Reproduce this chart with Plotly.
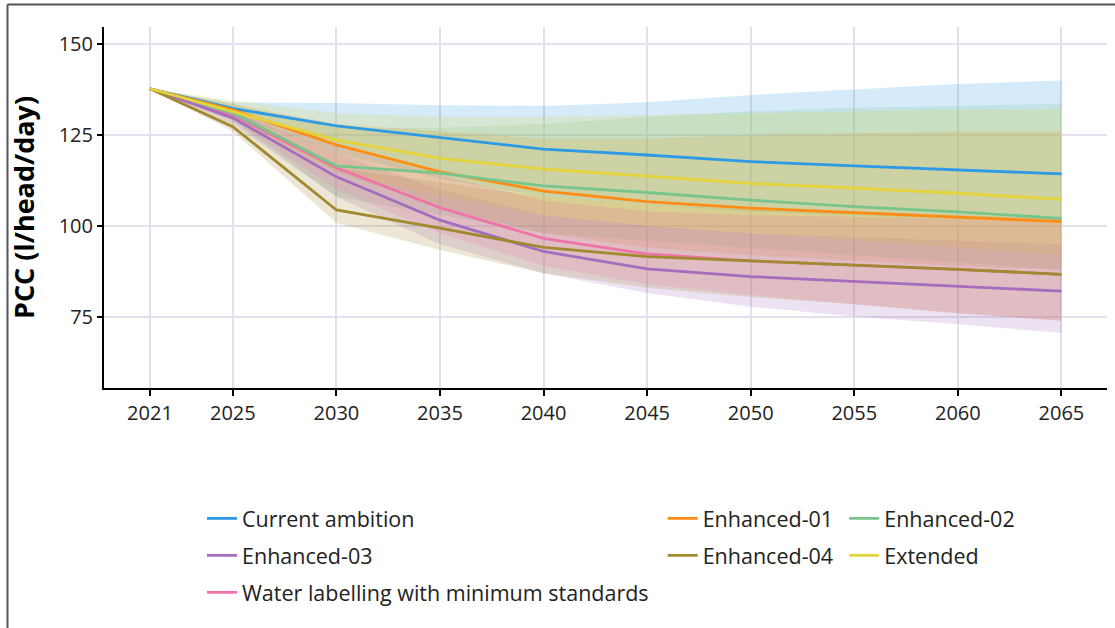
import plotly.graph_objects as go

# Per-capita consumption projections by scenario (l/head/day)
years = [2021, 2025, 2030, 2035, 2040, 2045, 2050, 2055, 2060, 2065]

scenarios = [
    "Current ambition",
    "Enhanced-01",
    "Enhanced-02",
    "Enhanced-03",
    "Enhanced-04",
    "Extended",
    "Water labelling with minimum standards",
]

current_ambition = [137.7, 132.3, 127.5, 124.2, 121.1, 119.5, 117.7, 116.5, 115.4, 114.3]
current_ambition_hi = [137.7, 134.0, 133.8, 133.2, 133.0, 134.0, 136.0, 137.5, 139.0, 140.0]
current_ambition_lo = [137.7, 130.5, 120.0, 113.0, 108.0, 106.0, 104.0, 103.0, 102.0, 101.0]

enhanced_01 = [137.7, 131.9, 122.3, 114.9, 109.6, 106.7, 104.9, 103.7, 102.6, 101.2]
enhanced_01_hi = [137.7, 133.5, 128.0, 126.0, 124.0, 124.0, 125.0, 125.5, 126.0, 126.0]
enhanced_01_lo = [137.7, 130.0, 115.0, 105.0, 98.0, 94.0, 92.0, 90.5, 89.0, 88.0]

enhanced_02 = [137.7, 131.0, 116.5, 114.5, 111.0, 109.2, 107.1, 105.3, 103.9, 102.1]
enhanced_02_hi = [137.7, 133.5, 127.0, 127.0, 128.0, 130.0, 131.5, 132.5, 133.0, 133.6]
enhanced_02_lo = [137.7, 129.0, 108.0, 103.0, 98.0, 96.0, 94.0, 92.0, 90.0, 88.0]

enhanced_03 = [137.7, 129.7, 113.5, 101.6, 93.0, 88.2, 86.1, 84.7, 83.3, 82.1]
enhanced_03_hi = [137.7, 131.5, 120.0, 110.0, 103.0, 100.0, 98.0, 97.0, 96.0, 95.0]
enhanced_03_lo = [137.7, 128.0, 108.0, 95.0, 87.0, 81.6, 77.8, 75.1, 73.0, 70.6]

enhanced_04 = [137.7, 127.3, 104.4, 99.4, 94.1, 91.6, 90.4, 89.3, 88.1, 86.7]
enhanced_04_hi = [137.7, 132.0, 116.0, 112.0, 108.0, 106.0, 104.5, 104.0, 103.0, 102.0]
enhanced_04_lo = [137.7, 126.0, 100.8, 93.4, 87.0, 83.0, 80.5, 78.5, 76.0, 74.0]

extended = [137.7, 131.5, 123.6, 118.6, 115.6, 113.7, 111.7, 110.4, 109.0, 107.3]
extended_hi = [137.7, 134.5, 131.0, 130.0, 130.0, 130.5, 131.0, 131.5, 132.0, 132.0]
extended_lo = [137.7, 129.0, 115.0, 108.0, 103.0, 100.0, 98.0, 96.0, 94.0, 92.0]

water_labelling = [137.7, 130.5, 116.0, 105.0, 96.6, 92.3, 90.4, 89.3, 88.1, 86.7]
water_labelling_hi = [137.7, 132.0, 122.0, 114.0, 107.0, 104.0, 103.0, 102.5, 102.0, 102.0]
water_labelling_lo = [137.7, 129.0, 110.0, 98.0, 89.0, 84.0, 81.0, 78.5, 76.0, 74.0]

x_ticks = [2021, 2025, 2030, 2035, 2040, 2045, 2050, 2055, 2060, 2065]
y_ticks = [75, 100, 125, 150]

series = {
    "Current ambition": (current_ambition, current_ambition_lo, current_ambition_hi, (46, 154, 230), "legend", 1),
    "Enhanced-01": (enhanced_01, enhanced_01_lo, enhanced_01_hi, (255, 140, 20), "legend2", 1),
    "Enhanced-02": (enhanced_02, enhanced_02_lo, enhanced_02_hi, (120, 197, 140), "legend3", 1),
    "Enhanced-03": (enhanced_03, enhanced_03_lo, enhanced_03_hi, (166, 109, 191), "legend", 2),
    "Enhanced-04": (enhanced_04, enhanced_04_lo, enhanced_04_hi, (160, 137, 46), "legend2", 2),
    "Extended": (extended, extended_lo, extended_hi, (226, 212, 58), "legend3", 2),
    "Water labelling with minimum standards": (water_labelling, water_labelling_lo, water_labelling_hi, (238, 116, 168), "legend", 3),
}

FONT = "Open Sans"


def rgba(c, a):
    return f"rgba({c[0]},{c[1]},{c[2]},{a})"


fig = go.Figure()

# uncertainty ribbons first
for name in scenarios:
    mid, lo, hi, col, leg, rank = series[name]
    fig.add_trace(go.Scatter(
        x=years + years[::-1],
        y=hi + lo[::-1],
        fill="toself",
        fillcolor=rgba(col, 0.2),
        line=dict(width=0),
        mode="lines",
        hoverinfo="skip",
        showlegend=False,
    ))

# central projections on top (water labelling drawn underneath the others)
line_order = [scenarios[-1]] + scenarios[:-1]
for name in line_order:
    mid, lo, hi, col, leg, rank = series[name]
    fig.add_trace(go.Scatter(
        x=years,
        y=mid,
        mode="lines",
        name=name,
        line=dict(color=rgba(col, 1), width=2.8),
        legend=leg,
        legendrank=rank,
        legendgroup=name,
    ))

grid = "#E2E0EC"
legend_common = dict(
    orientation="v",
    font=dict(family=FONT, size=21.5, color="#222222"),
    bgcolor="rgba(0,0,0,0)",
    tracegroupgap=6,
    yanchor="top",
    xanchor="left",
)

fig.update_layout(
    width=1115,
    height=628,
    margin=dict(l=104, r=8, t=27, b=240),
    paper_bgcolor="white",
    plot_bgcolor="white",
    font=dict(family=FONT, size=20, color="#222222"),
    xaxis=dict(
        range=[2018.78, 2067.2],
        tickvals=x_ticks,
        ticktext=[str(v) for v in x_ticks],
        showgrid=True,
        gridcolor=grid,
        gridwidth=2,
        zeroline=False,
        showline=True,
        linecolor="black",
        linewidth=2,
        ticks="outside",
        ticklen=6,
        tickwidth=2,
        tickcolor="black",
        tickfont=dict(family=FONT, size=20, color="#222222"),
    ),
    yaxis=dict(
        range=[55.49, 154.67],
        tickvals=y_ticks,
        showgrid=True,
        gridcolor=grid,
        gridwidth=2,
        zeroline=False,
        showline=True,
        linecolor="black",
        linewidth=2,
        ticks="outside",
        ticklen=5,
        tickwidth=2,
        tickcolor="black",
        tickfont=dict(family=FONT, size=20, color="#222222"),
        title=dict(text="<b>PCC (l/head/day)</b>", font=dict(family=FONT, size=27, color="black"), standoff=16),
    ),
    legend=dict(x=0.0977, y=-0.3045, **legend_common),
    legend2=dict(x=0.557, y=-0.3045, **legend_common),
    legend3=dict(x=0.738, y=-0.3045, **legend_common),
    shapes=[
        dict(type="line", xref="paper", yref="paper", x0=-0.0962, x1=1.01, y0=1.0623, y1=1.0623,
             line=dict(color="#555555", width=2)),
        dict(type="line", xref="paper", yref="paper", x0=-0.0962, x1=-0.0962, y0=1.0623, y1=-0.67,
             line=dict(color="#555555", width=2)),
    ],
)

fig.write_html("out.html")
